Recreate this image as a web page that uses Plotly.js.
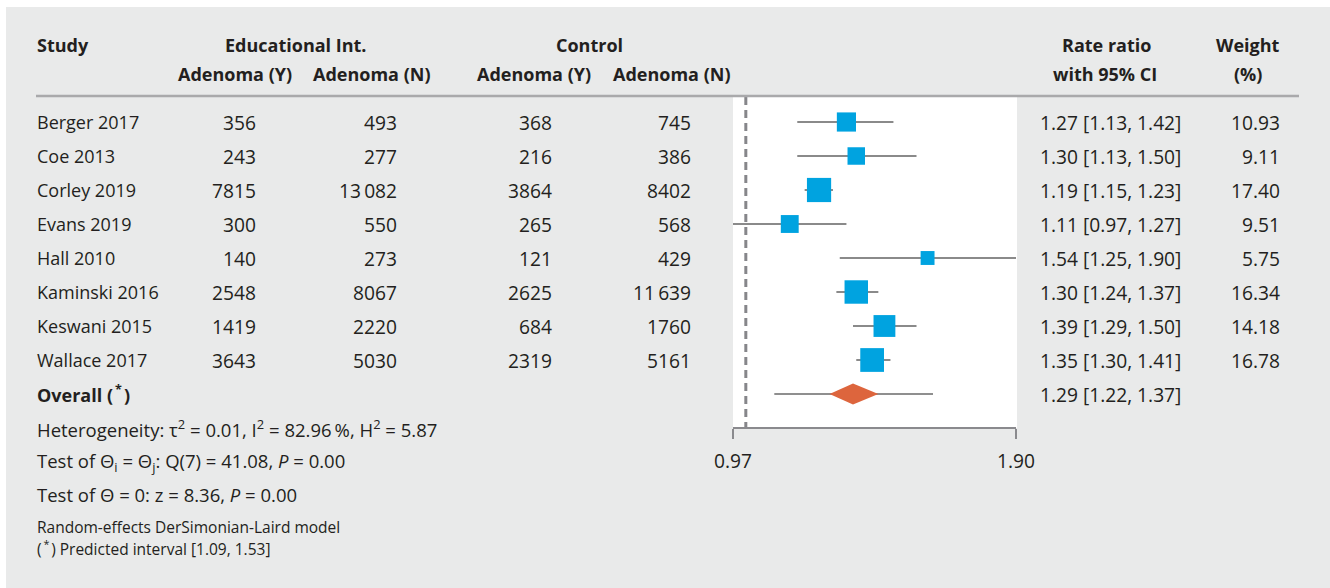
<!DOCTYPE html>
<html>
<head>
<meta charset="utf-8">
<script src="https://cdn.plot.ly/plotly-3.0.1.min.js"></script>
<style>html,body{margin:0;padding:0;background:#fff;}#chart{width:1330px;height:588px;}</style>
</head>
<body>
<div id="chart"></div>
<script>
// ---------------- data ----------------
const studies = ['Berger 2017','Coe 2013','Corley 2019','Evans 2019','Hall 2010','Kaminski 2016','Keswani 2015','Wallace 2017'];
const intY = [356, 243, 7815, 300, 140, 2548, 1419, 3643];
const intN = [493, 277, 13082, 550, 273, 8067, 2220, 5030];
const ctlY = [368, 216, 3864, 265, 121, 2625, 684, 2319];
const ctlN = [745, 386, 8402, 568, 429, 11639, 1760, 5161];
const rr   = [1.27, 1.30, 1.19, 1.11, 1.54, 1.30, 1.39, 1.35];
const ciLo = [1.13, 1.13, 1.15, 0.97, 1.25, 1.24, 1.29, 1.30];
const ciHi = [1.42, 1.50, 1.23, 1.27, 1.90, 1.37, 1.50, 1.41];
const weight = [10.93, 9.11, 17.40, 9.51, 5.75, 16.34, 14.18, 16.78];
const overallRR = 1.29, overallLo = 1.22, overallHi = 1.37;
const predLine = [1.07, 1.56];          // predicted-interval whisker as drawn
const nullValue = 1;
const xTickVals = [0.97, 1.90];
const xTickText = ['0.97', '1.90'];

// ---------------- layout helpers ----------------
const W = 1330, H = 588;
const ROW0 = 122, ROWH = 34;
const rowOf = p => (p - ROW0) / ROWH;     // pixel y -> row units
const fx = p => p / W;
const fy = p => 1 - p / H;
const FONT = '"Open Sans", "Noto Sans", sans-serif';
const TXT = '#231f20';
const FS = 18;     // labels
const FN = 19.2;   // numbers

function fmtInt(n){
  const s = String(n);
  if (n >= 10000) return s.slice(0, s.length-3) + '\u2009' + s.slice(-3);
  return s;
}

const ann = [];
function A(text, xp, row, anchor, size, bold){
  ann.push({text: bold ? '<b>'+text+'</b>' : text, xref:'paper', yref:'y', x: fx(xp), y: row,
    xanchor: anchor, yanchor:'middle', showarrow:false, borderpad:0,
    font:{family:FONT, size:size||FS, color:TXT}});
}

// headers
const h1 = rowOf(45), h2 = rowOf(74);
A('Study', 36, h1, 'left', FS, true);
A('Educational Int.', 296, h1, 'center', FS, true);
A('Adenoma (Y)', 235, h2, 'center', FS, true);
A('Adenoma (N)', 372, h2, 'center', FS, true);
A('Control', 589, h1, 'center', FS, true);
A('Adenoma (Y)', 534, h2, 'center', FS, true);
A('Adenoma (N)', 671, h2, 'center', FS, true);
A('Rate ratio', 1106, h1, 'center', FS, true);
A('with 95% CI', 1105, h2, 'center', FS, true);
A('Weight', 1248, h1, 'center', FS, true);
A('(%)', 1248, h2, 'center', FS, true);

// rows
studies.forEach((s, i) => {
  A(s, 36, i, 'left');
  A(fmtInt(intY[i]), 257, i, 'right', FN);
  A(fmtInt(intN[i]), 398, i, 'right', FN);
  A(fmtInt(ctlY[i]), 553, i, 'right', FN);
  A(fmtInt(ctlN[i]), 692, i, 'right', FN);
  A(rr[i].toFixed(2) + ' [' + ciLo[i].toFixed(2) + ', ' + ciHi[i].toFixed(2) + ']', 1039, i, 'left', FN);
  A(weight[i].toFixed(2), 1281, i, 'right', FN);
});
const oRow = studies.length;
A('Overall (<sup>\u2009*\u2009</sup>)', 36, oRow, 'left', FS, true);
A(overallRR.toFixed(2) + ' [' + overallLo.toFixed(2) + ', ' + overallHi.toFixed(2) + ']', 1039, oRow, 'left', FN);

A('Heterogeneity: τ<sup>2</sup> = 0.01, I<sup>2</sup> = 82.96\u2009%, H<sup>2</sup> = 5.87', 36, rowOf(428), 'left', 18.5);
A('Test of Θ<sub>i</sub> = Θ<sub>j</sub>: Q(7) = 41.08, <i>P</i> = 0.00', 36, rowOf(462), 'left', 18.5);
A('Test of Θ = 0: z = 8.36, <i>P</i> = 0.00', 36, rowOf(494), 'left', 18.5);
A('Random-effects DerSimonian-Laird model', 36, rowOf(527), 'left', 15.5);
A('(<sup>\u2009*\u2009</sup>) Predicted interval [1.09, 1.53]', 36, rowOf(548), 'left', 15.5);

// ---------------- traces ----------------
const ciX = [], ciY = [];
studies.forEach((s, i) => { ciX.push(ciLo[i], ciHi[i], null); ciY.push(i, i, null); });
const dH = 10.5 / ROWH;

const traces = [
  {x:[nullValue, nullValue], y:[rowOf(97), rowOf(428)], mode:'lines', type:'scatter',
   line:{color:'#86868a', width:3, dash:'8px,5px'}},
  {x:ciX, y:ciY, mode:'lines', type:'scatter', line:{color:'#8a8a8a', width:2}},
  {x:predLine, y:[oRow, oRow], mode:'lines', type:'scatter', line:{color:'#6a6a6a', width:1.6}},
  {x:rr, y:studies.map((s,i)=>i), mode:'markers', type:'scatter', opacity:1,
   marker:{symbol:'square', color:'#00a3e0', opacity:1, size:weight.map(w => 5.8*Math.sqrt(w)), line:{width:0}}},
  {x:[overallLo, overallRR, overallHi, overallRR, overallLo], y:[oRow, oRow-dH, oRow, oRow+dH, oRow],
   mode:'lines', type:'scatter', fill:'toself', fillcolor:'#dd653d', line:{width:0, color:'#dd653d'}}
];

const layout = {
  width: W, height: H,
  margin:{l:0, r:0, t:0, b:0, pad:0},
  paper_bgcolor:'#ffffff', plot_bgcolor:'rgba(0,0,0,0)',
  showlegend:false, hovermode:false,
  xaxis:{type:'log', range:[Math.log10(0.97), Math.log10(1.90)],
    domain:[fx(733), fx(1016)], anchor:'free', position: fy(428),
    showline:true, linecolor:'#8a8a8e', linewidth:2.2, mirror:false,
    ticks:'outside', ticklen:10, tickwidth:2, tickcolor:'#8a8a8e',
    tickvals:xTickVals, ticktext:xTickText, ticklabelstandoff:6,
    tickfont:{family:FONT, size:FN, color:TXT},
    showgrid:false, zeroline:false, fixedrange:true},
  yaxis:{range:[rowOf(H), rowOf(0)], domain:[0,1], visible:false, fixedrange:true},
  shapes:[
    {type:'rect', xref:'paper', yref:'paper', x0:fx(6), x1:1, y0:0, y1:fy(7),
     fillcolor:'#e9eaea', line:{width:0}, layer:'below'},
    {type:'rect', xref:'paper', yref:'paper', x0:fx(733), x1:fx(1017), y0:fy(428), y1:fy(97),
     fillcolor:'#ffffff', line:{width:0}, layer:'below'},
    {type:'line', xref:'paper', yref:'paper', x0:fx(36), x1:fx(1299), y0:fy(96), y1:fy(96),
     line:{color:'#a9a9ab', width:2.5}, layer:'above'}
  ],
  annotations: ann
};

Plotly.newPlot('chart', traces, layout, {displayModeBar:false, staticPlot:true});
</script>
</body>
</html>
